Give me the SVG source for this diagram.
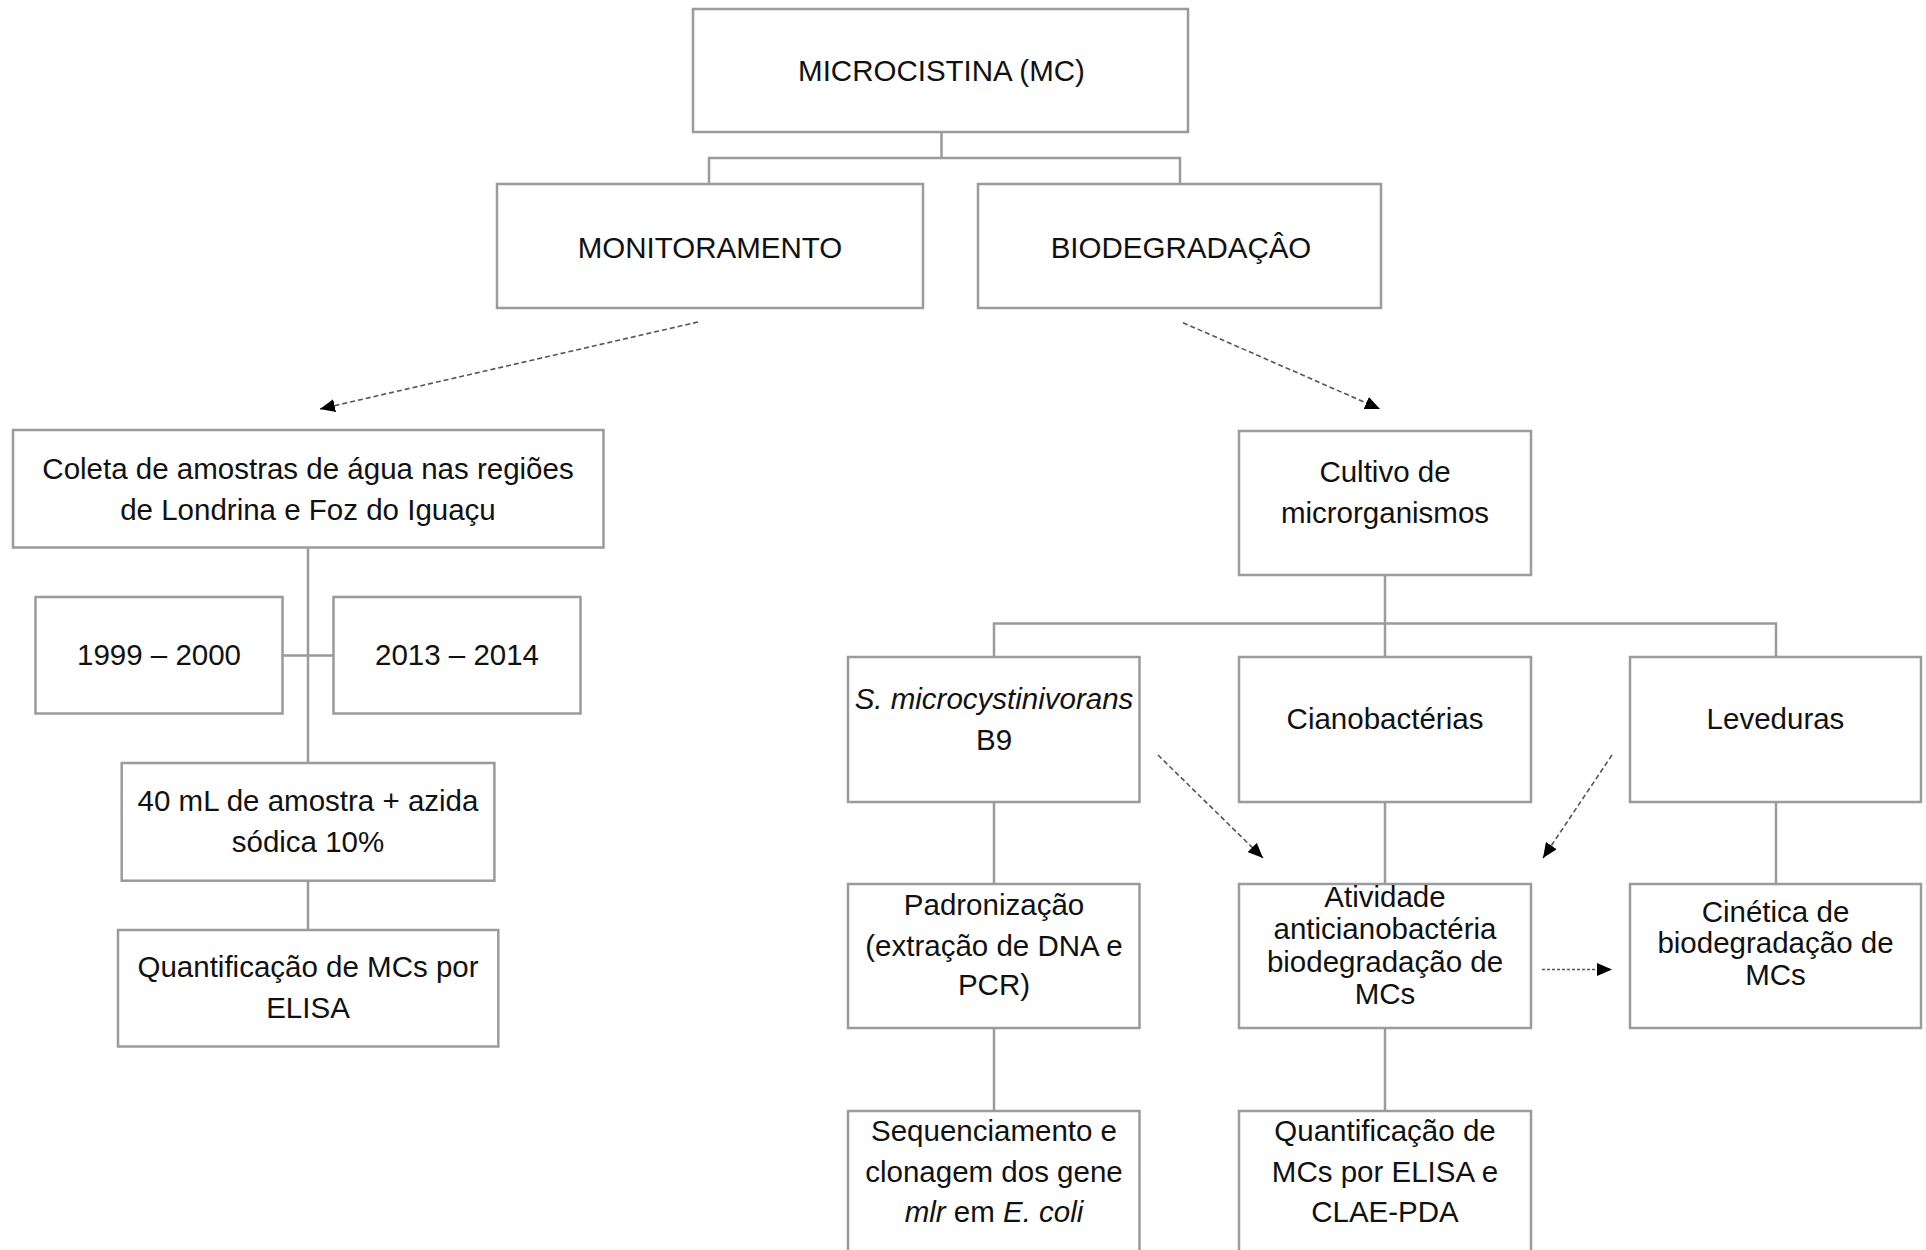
<svg xmlns="http://www.w3.org/2000/svg" width="1926" height="1250" viewBox="0 0 1926 1250">
<style>
.box{fill:#fff;stroke:#9b9b9b;stroke-width:2.5}
.ln{fill:none;stroke:#9b9b9b;stroke-width:2.5}
.da{fill:none;stroke:#555;stroke-width:1.6;stroke-dasharray:5 3}
.dt{fill:none;stroke:#555;stroke-width:1.6;stroke-dasharray:3 2}
text{font-family:"Liberation Sans",Arial,sans-serif;font-size:29.5px;fill:#111;text-anchor:middle}
.i{font-style:italic}
</style>
<defs>
<marker id="ah" markerUnits="userSpaceOnUse" markerWidth="16" markerHeight="13" refX="15" refY="6.5" orient="auto">
<path d="M0,0 L15,6.5 L0,13 z" fill="#000"/>
</marker>
</defs>
<rect width="1926" height="1250" fill="#fff"/>
<g id="connectors">
<path class="ln" d="M941.5,132 V158 M709,184 V158 H1180 V184"/>
<path class="ln" d="M308,548 V763 M282.6,655.5 H333.5 M308,881 V930"/>
<path class="ln" d="M1385,575 V657 M994,657 V623.5 H1776 V657"/>
<path class="ln" d="M994,802 V884 M1385,802 V884 M1776,802 V884"/>
<path class="ln" d="M994,1028 V1111 M1385,1028 V1111"/>
<path class="da" d="M698,322 L320,409" marker-end="url(#ah)"/>
<path class="da" d="M1183,322.7 L1380,409" marker-end="url(#ah)"/>
<path class="da" d="M1158,755 L1263,858" marker-end="url(#ah)"/>
<path class="da" d="M1612,755 L1543,858" marker-end="url(#ah)"/>
<path class="dt" d="M1542,969.5 L1612,969.5" marker-end="url(#ah)"/>
</g>
<g id="n-microcistina"><rect class="box" x="693" y="9" width="495" height="123"/><text x="941.5" y="80.5">MICROCISTINA (MC)</text></g>
<g id="n-monitoramento"><rect class="box" x="497" y="184" width="426" height="124"/><text x="710" y="257.5">MONITORAMENTO</text></g>
<g id="n-biodegradacao"><rect class="box" x="978" y="184" width="403" height="124"/><text x="1181" y="257.5">BIODEGRADAÇÂO</text></g>
<g id="n-coleta"><rect class="box" x="13" y="430" width="590.5" height="117.5"/><text x="308" y="479">Coleta de amostras de água nas regiões</text><text x="308" y="520">de Londrina e Foz do Iguaçu</text></g>
<g id="n-1999"><rect class="box" x="35.5" y="597" width="247" height="116.5"/><text x="159" y="664.5">1999 – 2000</text></g>
<g id="n-2013"><rect class="box" x="333.5" y="597" width="247" height="116.5"/><text x="457" y="664.5">2013 – 2014</text></g>
<g id="n-amostra"><rect class="box" x="121.7" y="763" width="372.7" height="117.7"/><text x="308" y="810.5">40 mL de amostra + azida</text><text x="308" y="851.5">sódica 10%</text></g>
<g id="n-quant-elisa"><rect class="box" x="118" y="930" width="380.3" height="116.5"/><text x="308" y="977">Quantificação de MCs por</text><text x="308" y="1017.5">ELISA</text></g>
<g id="n-cultivo"><rect class="box" x="1239" y="431" width="292" height="144"/><text x="1385" y="482">Cultivo de</text><text x="1385" y="523">microrganismos</text></g>
<g id="n-smicro"><rect class="box" x="848" y="657" width="291.5" height="145"/><text x="994" y="708.5"><tspan class="i">S. microcystinivorans</tspan></text><text x="994" y="749.5">B9</text></g>
<g id="n-ciano"><rect class="box" x="1239" y="657" width="292" height="145"/><text x="1385" y="728.5">Cianobactérias</text></g>
<g id="n-leveduras"><rect class="box" x="1630" y="657" width="291" height="145"/><text x="1775.5" y="728.5">Leveduras</text></g>
<g id="n-padronizacao"><rect class="box" x="848" y="884" width="291.5" height="144"/><text x="994" y="915">Padronização</text><text x="994" y="955.5">(extração de DNA e</text><text x="994" y="995">PCR)</text></g>
<g id="n-atividade"><rect class="box" x="1239" y="884" width="292" height="144"/><text x="1385" y="906.5">Atividade</text><text x="1385" y="939.3">anticianobactéria</text><text x="1385" y="971.7">biodegradação de</text><text x="1385" y="1004.3">MCs</text></g>
<g id="n-cinetica"><rect class="box" x="1630" y="884" width="291" height="144"/><text x="1775.5" y="922">Cinética de</text><text x="1775.5" y="953.3">biodegradação de</text><text x="1775.5" y="984.6">MCs</text></g>
<g id="n-sequenciamento"><rect class="box" x="848" y="1111" width="291.5" height="155"/><text x="994" y="1140.7">Sequenciamento e</text><text x="994" y="1181.7">clonagem dos gene</text><text x="994" y="1221.7"><tspan class="i">mlr</tspan> em <tspan class="i">E. coli</tspan></text></g>
<g id="n-quant-clae"><rect class="box" x="1239" y="1111" width="292" height="155"/><text x="1385" y="1140.7">Quantificação de</text><text x="1385" y="1181.7">MCs por ELISA e</text><text x="1385" y="1221.7">CLAE-PDA</text></g>
</svg>
